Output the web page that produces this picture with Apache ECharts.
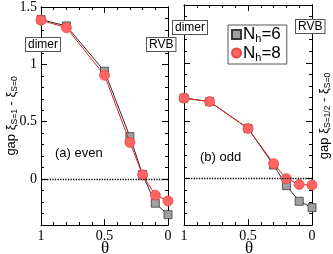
<!DOCTYPE html>
<html><head><meta charset="utf-8">
<script src="https://cdn.jsdelivr.net/npm/echarts@6/dist/echarts.min.js"></script>
<style>html,body{margin:0;padding:0;background:#fff}#c{width:333px;height:254px}</style>
</head><body><div id="c"></div>
<script>
const theta = [1, 0.8, 0.5, 0.3, 0.2, 0.1, 0];
const evenNh6 = [1.39, 1.335, 0.94, 0.37, 0.04, -0.21, -0.31];
const evenNh8 = [1.385, 1.32, 0.905, 0.32, 0.037, -0.14, -0.19];
const oddNh6 = [0.696, 0.666, 0.434, 0.118, -0.06, -0.195, -0.25];
const oddNh8 = [0.696, 0.666, 0.434, 0.13, 0.0, -0.05, -0.055];
const yMajorTicks = [0, 0.5, 1, 1.5];
const xTickLabels = ['0', '0.5', '1'];
const seriesNames = ['N_h=6', 'N_h=8'];

const SERIF = 'Liberation Serif';
const SANS = 'Liberation Sans';
const pairs = v => theta.map((t, i) => [t, v[i]]);

const chart = echarts.init(document.getElementById('c'), null, {renderer: 'canvas'});
const grids = [
  {left: 41, top: 5, width: 127, height: 220},
  {left: 184, top: 5, width: 128, height: 220}
];
const line = {show: true, onZero: false, lineStyle: {color: '#000', width: 1}};
function xAx(g, pos, labels) {
  return {type: 'value', gridIndex: g, position: pos, inverse: true, min: 0, max: 1, interval: 0.5,
    axisLine: line, splitLine: {show: false},
    axisTick: {show: true, inside: true, length: 6, lineStyle: {color: '#000'}},
    minorTick: {show: true, splitNumber: 5, length: 3, lineStyle: {color: '#000'}},
    axisLabel: {show: labels, margin: 4, fontFamily: SERIF, fontSize: 14, color: '#000',
      formatter: v => xTickLabels.find(s => Math.abs(parseFloat(s) - v) < 1e-6) || ''}};
}
function yAx(g, pos, major, labels) {
  const a = {type: 'value', gridIndex: g, position: pos, min: -0.4, max: 1.5,
    axisLine: line, splitLine: {show: false}};
  if (major) {
    a.axisTick = {show: true, inside: true, length: 6, customValues: yMajorTicks, lineStyle: {color: '#000'}};
    a.axisLabel = {show: labels, customValues: yMajorTicks, margin: 4, fontFamily: SERIF, fontSize: 14, color: '#000'};
  } else {
    a.interval = 0.1;
    a.axisTick = {show: true, inside: true, length: 3, lineStyle: {color: '#000'}};
    a.axisLabel = {show: false};
  }
  return a;
}
const xAxis = [xAx(0, 'bottom', true), xAx(0, 'top', false), xAx(1, 'bottom', true), xAx(1, 'top', false)];
const yAxis = [yAx(0, 'left', true, true), yAx(0, 'right', true, false), yAx(0, 'left', false), yAx(0, 'right', false),
  yAx(1, 'left', true, false), yAx(1, 'right', true, false), yAx(1, 'left', false), yAx(1, 'right', false)];

const gray = {type: 'line', symbol: 'rect', symbolSize: 8,
  itemStyle: {color: '#a0a0a0', borderColor: '#3a3a3a', borderWidth: 0.8},
  lineStyle: {color: '#2a2a2a', width: 1}};
const red = {type: 'line', symbol: 'circle', symbolSize: 10,
  itemStyle: {color: '#ff6464', borderColor: '#e84848', borderWidth: 0.8},
  lineStyle: {color: '#e02020', width: 1}};
const zeroLine = {silent: true, symbol: 'none', label: {show: false},
  lineStyle: {type: 'dotted', color: '#000', width: 1.3}, data: [{yAxis: 0}]};

const series = [
  Object.assign({}, gray, {name: seriesNames[0], xAxisIndex: 0, yAxisIndex: 0, data: pairs(evenNh6), markLine: zeroLine, z: 2}),
  Object.assign({}, red, {name: seriesNames[1], xAxisIndex: 0, yAxisIndex: 0, data: pairs(evenNh8), z: 3}),
  Object.assign({}, gray, {name: seriesNames[0], xAxisIndex: 2, yAxisIndex: 4, data: pairs(oddNh6), markLine: zeroLine, z: 2}),
  Object.assign({}, red, {name: seriesNames[1], xAxisIndex: 2, yAxisIndex: 4, data: pairs(oddNh8), z: 3})
];

const box = (text, x, y) => ({type: 'text', x: x, y: y, z: 100,
  style: {text: text, font: '12px ' + SANS, fill: '#000', backgroundColor: '#fff',
    borderColor: '#555', borderWidth: 1, padding: [1, 2, 0, 2]}});
const richY = {
  m: {fontFamily: SANS, fontSize: 13, lineHeight: 17, color: '#000'},
  s: {fontFamily: SANS, fontSize: 8.5, lineHeight: 9, verticalAlign: 'bottom', color: '#000'}
};
const yTitle = (text, x, y) => ({type: 'text', x: x, y: y, rotation: Math.PI / 2, z: 100,
  style: {text: text, rich: richY, align: 'center', verticalAlign: 'middle'}});

chart.setOption({
  animation: false,
  grid: grids,
  xAxis: xAxis,
  yAxis: yAxis,
  series: series,
  legend: {orient: 'vertical', left: 228, top: 25, data: [{name: seriesNames[0], icon: 'rect'}, {name: seriesNames[1], icon: 'circle'}],
    itemWidth: 9, itemHeight: 9, itemGap: 0, padding: [1, 6, 1, 3],
    borderColor: '#555', borderWidth: 1, backgroundColor: '#fff',
    formatter: n => '{m|N}{s|h}{m|' + n.split('h')[1] + '}',
    textStyle: {padding: [0, 0, 0, -3], rich: {
      m: {fontFamily: SANS, fontSize: 17, lineHeight: 20, color: '#000'},
      s: {fontFamily: SANS, fontSize: 11, lineHeight: 12, verticalAlign: 'bottom', color: '#000'}}}},
  graphic: [
    box('dimer', 26, 38), box('RVB', 147, 38),
    box('dimer', 173, 21), box('RVB', 296, 20),
    {type: 'text', x: 55, y: 147, style: {text: '(a) even', font: '13px ' + SANS, fill: '#000'}},
    {type: 'text', x: 200, y: 151, style: {text: '(b) odd', font: '13px ' + SANS, fill: '#000'}},
    {type: 'text', x: 105, y: 249, style: {text: 'θ', font: '17px ' + SERIF, fill: '#000', align: 'center', verticalAlign: 'middle'}},
    {type: 'text', x: 249, y: 249, style: {text: 'θ', font: '17px ' + SERIF, fill: '#000', align: 'center', verticalAlign: 'middle'}},
    yTitle('{m|gap ξ}{s|S=1}{m| - ξ}{s|S=0}', 11, 116),
    yTitle('{m|gap ξ}{s|S=1/2}{m| - ξ}{s|S=0}', 324, 116)
  ]
});
</script></body></html>
